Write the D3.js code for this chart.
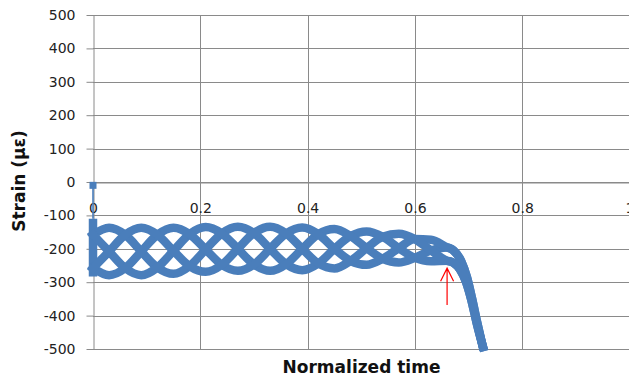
<!DOCTYPE html>
<html>
<head>
<meta charset="utf-8">
<script src="https://cdn.jsdelivr.net/npm/d3@7"></script>
<style>
  html, body { margin: 0; padding: 0; background: #fff; }
  svg { display: block; }
  .axis text { font-family: "DejaVu Sans", Verdana, sans-serif; font-size: 14px; fill: #222; }
  .title { font-family: "DejaVu Sans", Verdana, sans-serif; font-size: 17px; font-weight: bold; fill: #111; }
</style>
</head>
<body>
<svg id="chart" width="629" height="383"></svg>
<script>
// ticks
const timeTicks = [0, 0.2, 0.4, 0.6, 0.8, 1];
const strainTicks = [500, 400, 300, 200, 100, 0, -100, -200, -300, -400, -500];

// first recorded point and the start of the record at t = 0
const leadTime = [0, 0, 0];
const leadStrain = [-10, -110, -283];

// the oscillating record, read as four interleaved strands
const timeGrid = [0, 0.03, 0.06, 0.09, 0.12, 0.15, 0.18, 0.21, 0.24, 0.27, 0.30, 0.33,
                  0.36, 0.39, 0.42, 0.45, 0.48, 0.51, 0.54, 0.57, 0.60, 0.63, 0.66];
const strandA = [-158, -137, -158, -208, -256, -275, -252, -202, -154, -134, -153, -200,
                 -246, -264, -244, -200, -162, -148, -164, -198, -227, -237, -236];
const strandB = [-158, -208, -258, -279, -256, -206, -156, -135, -154, -200, -247, -266,
                 -246, -200, -156, -141, -162, -198, -230, -241, -227, -205, -196];
const strandC = [-258, -279, -258, -208, -158, -137, -156, -202, -248, -266, -247, -200,
                 -154, -136, -156, -200, -236, -248, -230, -198, -171, -173, -196];
const strandD = [-258, -208, -158, -137, -158, -206, -252, -269, -248, -200, -153, -134,
                 -154, -200, -244, -259, -236, -198, -164, -155, -171, -205, -236];

// final drop
const upperTailTime = [0.672, 0.686, 0.697, 0.706, 0.716, 0.726];
const upperTailStrain = [-205, -236, -285, -345, -420, -490];
const lowerTailTime = [0.672, 0.684, 0.695, 0.705, 0.716, 0.727];
const lowerTailStrain = [-242, -262, -298, -352, -428, -494];

// red arrow annotation
const arrowTime = 0.66;
const arrowStrain = [-258, -368];

const svg = d3.select("#chart");
const x = d3.scaleLinear().domain([0, 1]).range([93, 629.5]);
const y = d3.scaleLinear().domain([-500, 500]).range([349, 15]);
const gridColor = "#8a8a8a";
const blue = "#4a7ebb";

// grid
svg.append("g").selectAll("line").data(strainTicks).join("line")
  .attr("x1", x(0)).attr("x2", x(1))
  .attr("y1", d => Math.round(y(d)) + 0.5).attr("y2", d => Math.round(y(d)) + 0.5)
  .attr("stroke", gridColor).attr("stroke-width", 1);
svg.append("g").selectAll("line").data(timeTicks.slice(1)).join("line")
  .attr("x1", d => Math.round(x(d)) + 0.5).attr("x2", d => Math.round(x(d)) + 0.5)
  .attr("y1", y(500)).attr("y2", y(-500))
  .attr("stroke", gridColor).attr("stroke-width", 1);

// axes
svg.append("g").attr("class", "axis")
  .attr("transform", `translate(${Math.round(x(0)) + 0.5},0)`)
  .call(d3.axisLeft(y).tickValues(strainTicks).tickFormat(d => String(d))
    .tickSize(7).tickSizeOuter(0).tickPadding(11));
svg.append("g").attr("class", "axis")
  .attr("transform", `translate(0,${Math.round(y(0)) + 0.5})`)
  .call(d3.axisBottom(x).tickValues(timeTicks).tickFormat(d => String(d))
    .tickSize(0).tickSizeOuter(0).tickPadding(21));
svg.selectAll(".axis path, .axis line").attr("stroke", gridColor);

// series
const line = d3.line().x(d => x(d[0])).y(d => y(d[1])).curve(d3.curveMonotoneX);
const zip = (ts, vs) => ts.map((t, i) => [t, vs[i]]);
const strands = [
  zip(timeGrid, strandA).concat(zip(lowerTailTime, lowerTailStrain)),
  zip(timeGrid, strandB).concat(zip(upperTailTime, upperTailStrain)),
  zip(timeGrid, strandC).concat(zip(upperTailTime, upperTailStrain)),
  zip(timeGrid, strandD).concat(zip(lowerTailTime, lowerTailStrain))
];
const series = svg.append("g");
series.append("line")
  .attr("x1", x(leadTime[0])).attr("x2", x(leadTime[1]))
  .attr("y1", y(leadStrain[0])).attr("y2", y(leadStrain[1]))
  .attr("stroke", blue).attr("stroke-width", 1.6);
series.append("line")
  .attr("x1", x(leadTime[1])).attr("x2", x(leadTime[2]))
  .attr("y1", y(leadStrain[1])).attr("y2", y(leadStrain[2]))
  .attr("stroke", blue).attr("stroke-width", 8.5);
series.selectAll("path").data(strands).join("path")
  .attr("d", line)
  .attr("fill", "none").attr("stroke", blue)
  .attr("stroke-width", 8.5).attr("stroke-linejoin", "round").attr("stroke-linecap", "square");
series.append("rect")
  .attr("x", x(leadTime[0]) - 3.5).attr("y", y(leadStrain[0]) - 3.5)
  .attr("width", 7).attr("height", 7).attr("fill", blue);

// arrow
const ax = x(arrowTime), tipY = y(arrowStrain[0]);
svg.append("path")
  .attr("d", `M${ax},${y(arrowStrain[1])}L${ax},${tipY}M${ax - 6.5},${tipY + 13}L${ax},${tipY}L${ax + 6.5},${tipY + 13}`)
  .attr("fill", "none").attr("stroke", "#ff0000").attr("stroke-width", 1.2);

// titles
svg.append("text").attr("class", "title")
  .attr("transform", "translate(25,181) rotate(-90)")
  .attr("text-anchor", "middle").text("Strain (με)");
svg.append("text").attr("class", "title")
  .attr("x", 361.5).attr("y", 373).attr("text-anchor", "middle").text("Normalized time");
</script>
</body>
</html>
